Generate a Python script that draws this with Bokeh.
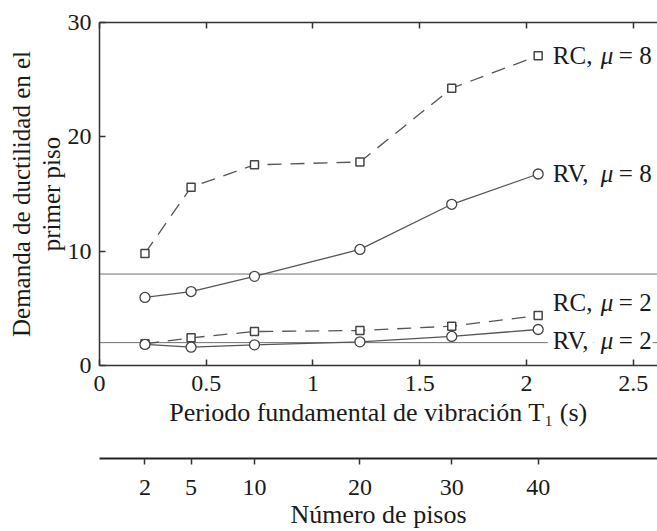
from bokeh.plotting import figure
from bokeh.models import Range1d, LinearAxis, FixedTicker, Span, Label
from bokeh.embed import file_html
from bokeh.resources import INLINE

# ---- data ----
periods = [0.213, 0.429, 0.726, 1.22, 1.65, 2.055]   # T1 (s)
floors = [2, 5, 10, 20, 30, 40]                      # número de pisos
rc_mu8 = [9.8, 15.6, 17.55, 17.8, 24.25, 27.1]
rv_mu8 = [5.95, 6.47, 7.8, 10.15, 14.1, 16.75]
rc_mu2 = [1.9, 2.42, 2.97, 3.06, 3.44, 4.37]
rv_mu2 = [1.84, 1.6, 1.81, 2.07, 2.54, 3.15]
target_levels = [8, 2]
x_ticks = [0, 0.5, 1, 1.5, 2, 2.5]
x_tick_labels = ["0", "0.5", "1", "1.5", "2", "2.5"]
y_ticks = [0, 10, 20, 30]
series_names = ["RC,", "RV,", "RC,", "RV,"]
series_mu = ["8", "8", "2", "2"]
label_y = [27.1, 16.75, 5.55, 2.15]
y_label_lines = ["Demanda de ductilidad en el", "primer piso"]

FONT = "Liberation Serif"
TXT = "#1a1a1a"
AX = "#333333"
TICK_FS = "24px"
LAB_FS = "26px"

p = figure(width=657, height=531, x_range=Range1d(0, 2.614), y_range=Range1d(0, 30),
           output_backend="svg", toolbar_location=None,
           min_border_left=99, min_border_right=0, min_border_top=22, min_border_bottom=0)
p.outline_line_color = None
p.xgrid.visible = False
p.ygrid.visible = False
p.background_fill_color = "white"
p.border_fill_color = "white"


def style_axis(ax):
    ax.axis_line_color = AX
    ax.axis_line_width = 1.5
    ax.major_tick_line_color = AX
    ax.major_tick_line_width = 1.5
    ax.minor_tick_line_color = None
    ax.major_label_text_font = FONT
    ax.major_label_text_font_size = TICK_FS
    ax.major_label_text_color = TXT
    ax.axis_label_text_font = FONT
    ax.axis_label_text_font_size = LAB_FS
    ax.axis_label_text_color = TXT
    ax.axis_label_text_font_style = "normal"


def blank_axis(label, standoff):
    ax = LinearAxis(ticker=FixedTicker(ticks=[]))
    ax.axis_line_color = None
    ax.major_tick_line_color = None
    ax.minor_tick_line_color = None
    ax.major_label_text_font_size = "0px"
    ax.major_label_standoff = 0
    ax.major_tick_in = 0
    ax.major_tick_out = 0
    ax.axis_label = label
    ax.axis_label_text_font = FONT
    ax.axis_label_text_font_size = LAB_FS
    ax.axis_label_text_color = TXT
    ax.axis_label_text_font_style = "normal"
    ax.axis_label_standoff = standoff
    return ax


# main x axis
xa = p.xaxis[0]
style_axis(xa)
xa.ticker = FixedTicker(ticks=x_ticks)
xa.major_label_overrides = dict(zip(x_ticks, x_tick_labels))
xa.major_tick_in = 6
xa.major_tick_out = 0
xa.major_label_standoff = 10
xa.axis_label = "Periodo fundamental de vibración T\u2081 (s)"
xa.axis_label_standoff = 4

# y axis (second label line nearest to the plot)
ya = p.yaxis[0]
style_axis(ya)
ya.ticker = FixedTicker(ticks=y_ticks)
ya.major_tick_in = 6
ya.major_tick_out = 0
ya.major_label_standoff = 8
ya.axis_label = y_label_lines[1]
ya.axis_label_standoff = 0
ya.axis_label_text_font_size = "25px"
ya2 = blank_axis(y_label_lines[0], 0)
ya2.axis_label_text_font_size = "25px"
p.add_layout(ya2, "left")

# top border with inward ticks
top = LinearAxis(ticker=FixedTicker(ticks=x_ticks))
style_axis(top)
top.major_tick_in = 6
top.major_tick_out = 0
top.major_label_text_font_size = "0px"
top.major_label_text_color = None
top.major_label_standoff = 0
p.add_layout(top, "above")

# spacer between the two bottom axes
spacer = blank_axis(" ", 0)
spacer.axis_label_text_font_size = "24px"
p.add_layout(spacer, "below")

# secondary axis: number of floors
fa = LinearAxis(ticker=FixedTicker(ticks=periods))
style_axis(fa)
fa.major_label_overrides = {t: str(n) for t, n in zip(periods, floors)}
fa.axis_line_width = 2.2
fa.axis_line_color = "#222222"
fa.major_tick_in = 0
fa.major_tick_out = 6
fa.major_label_standoff = 15
fa.axis_label = "Número de pisos"
fa.axis_label_standoff = 2
p.add_layout(fa, "below")

# reference levels
for lv in target_levels:
    p.add_layout(Span(location=lv, dimension="width", line_color="#6f6f6f",
                      line_width=1, level="underlay"))

LINE = "#555555"
DASH = "14 9"
p.line(periods, rc_mu8, line_color=LINE, line_width=1.3, line_dash=DASH)
p.line(periods, rv_mu8, line_color=LINE, line_width=1.3)
p.line(periods, rc_mu2, line_color=LINE, line_width=1.3, line_dash=DASH)
p.line(periods, rv_mu2, line_color=LINE, line_width=1.3)
for ys in (rc_mu8, rc_mu2):
    p.scatter(periods, ys, marker="square", size=8, fill_color="white",
              line_color="#444444", line_width=1.5)
for ys in (rv_mu8, rv_mu2):
    p.scatter(periods, ys, marker="circle", size=10, fill_color="white",
              line_color="#444444", line_width=1.3)

# series annotations
base_x = 2.1
for i, (nm, mu, yy) in enumerate(zip(series_names, series_mu, label_y)):
    bg = "white" if i == 3 else None
    common = dict(x=base_x, y=yy, text_font=FONT, text_font_size="25px",
                  text_color=TXT, text_baseline="middle", background_fill_color=bg)
    p.add_layout(Label(text=nm, x_offset=0, padding=5, **common))
    p.add_layout(Label(text="\u03bc", x_offset=46, text_font_style="italic", padding=7, **common))
    p.add_layout(Label(text="= " + mu, x_offset=70, padding=1, **common))

open("out.html", "w").write(file_html(p, INLINE))
